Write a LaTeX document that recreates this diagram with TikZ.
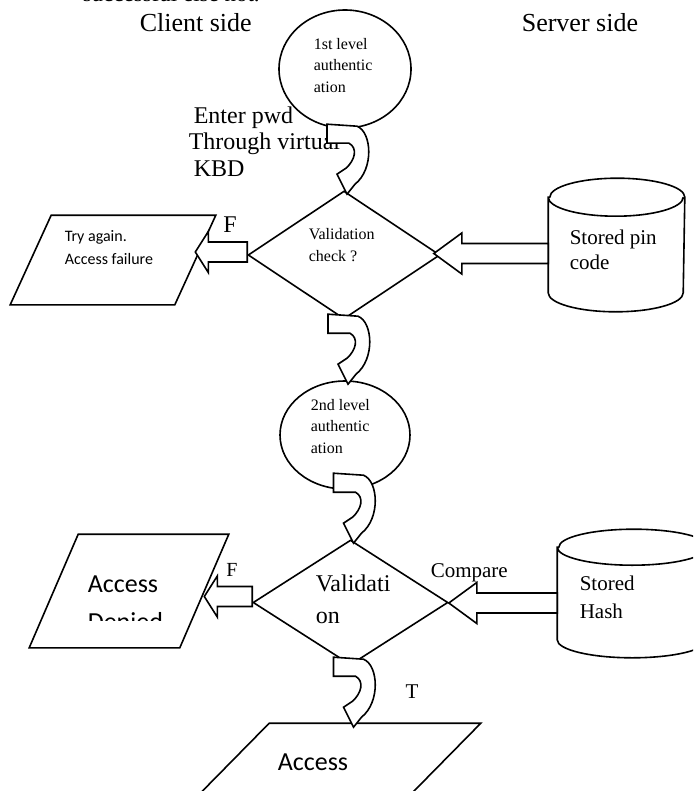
\documentclass[tikz,border=0pt]{standalone}
\usepackage{fontspec}
\setmainfont{Liberation Serif}
\newfontfamily\calib{Carlito}
\usepackage{tikz}
\usetikzlibrary{calc, shapes.geometric}

% horizontal block arrow: tail, tip, head length
\newcommand\hblock[3]{%
  \draw[blockarr] let \p1=#1, \p2=#2 in
    (\x1,\y1+5pt) -- (\x2+#3,\y1+5pt) -- (\x2+#3,\y1+10.25pt) -- (\x2,\y1)
    -- (\x2+#3,\y1-10.25pt) -- (\x2+#3,\y1-5pt) -- (\x1,\y1-5pt) -- cycle;}
% curved block arrow, tip at the given point
\newcommand\bendarrow[1]{%
  \draw[blockarr, shift={#1}, xshift=1.5pt, yshift=-2pt]
    (-20,-70) -- (10,-68) .. controls (25,-62) and (27,-25) .. (8,-10) -- (0,0) -- (-10,-20) -- (-1,-26)
    .. controls (8,-34) and (11,-46) .. (2,-51) -- (-20,-51) -- cycle;}
% slanted box round a node: node, slant
\newcommand\slab[2]{%
  \draw (#1.south west) -- ([xshift=#2]#1.north west) -- (#1.north east) -- ([xshift=-#2]#1.south east) -- cycle;}
% upright drum round a node: node, x radius, y radius
\newcommand\drum[3]{%
  \draw ([yshift=-#3]#1.north west) -- ([yshift=#3]#1.south west)
    arc[start angle=180, end angle=360, x radius=#2, y radius=#3]
    -- ([yshift=-#3]#1.north east)
    arc[start angle=0, end angle=180, x radius=#2, y radius=#3] -- cycle
    ([yshift=-#3]#1.north west) arc[start angle=180, end angle=360, x radius=#2, y radius=#3];}

\begin{document}
\begin{tikzpicture}[x=.5pt, y=-.5pt, line width=.8pt,
    blockarr/.style={draw, fill=white, line join=miter},
    bubble/.style={ellipse, draw, inner sep=0},
    decide/.style={diamond, draw, inner sep=0},
    box/.style={inner sep=0},
    txt/.style={inner sep=0, anchor=west, align=left}]
  \useasboundingbox (0,0) rectangle (693,791);
  \clip (0,0) rectangle (693,791);
  % headings
  \node[txt, anchor=base west, font=\fontsize{11.5}{13}\selectfont] (note) at (82,2) {successful else not.};
  \node[txt, font=\fontsize{13}{15}\selectfont] (client) at (139,23) {Client side};
  \node[txt, font=\fontsize{13}{15}\selectfont] (server) at (521,23) {Server side};
  % first level
  \node[bubble, minimum width=66pt, minimum height=59pt] (auth1) at (345,69) {};
  \node[txt, font=\fontsize{8}{10.75}\selectfont] (auth1txt) at (313,65.5) {1st level\\authentic\\ation};
  \node[txt, font=\fontsize{12}{13.25}\selectfont] (kbd) at (188,141.5) {\hspace{2.5pt}Enter pwd\\Through virtual\\\hspace{2.5pt}KBD};
  \node[decide, minimum width=96pt, minimum height=64pt] (val1) at (344,255) {};
  \node[txt, font=\fontsize{8}{11}\selectfont] (val1txt) at (308,245) {Validation\\check ?};
  \node[box, minimum width=102pt, minimum height=44pt] (retry) at (113,260) {};
  \slab{retry}{20.5pt}
  \node[txt, font=\calib\fontsize{8}{11.5}\selectfont] (retrytxt) at (64,248) {Try again.\\Access failure};
  \node[font=\fontsize{12}{14}\selectfont, inner sep=0] (f1) at (230,225) {F};
  \node[box, minimum width=67.5pt, minimum height=66pt] (pin) at (616.5,245) {};
  \drum{pin}{33.75pt}{9.5pt}
  \node[txt, font=\fontsize{10.5}{12.5}\selectfont] (pintxt) at (569,249.5) {Stored pin\\code};
  % second level
  \node[bubble, minimum width=65pt, minimum height=54pt] (auth2) at (345,435) {};
  \node[txt, font=\fontsize{8}{10.75}\selectfont] (auth2txt) at (310,426.5) {2nd level\\authentic\\ation};
  \node[decide, minimum width=97.5pt, minimum height=62.5pt] (val2) at (350.5,602.5) {};
  \node[txt, font=\fontsize{12}{16}\selectfont] (val2txt) at (315,599) {Validati\\on};
  \node[box, minimum width=99pt, minimum height=56pt] (deny) at (129,591) {};
  \slab{deny}{24.5pt}
  \begin{scope}
    \clip (20,560) rectangle (240,620);
    \node[txt, anchor=base west, font=\calib\fontsize{13}{19}\selectfont] (denytxt) at (87,592) {Access};
    \node[txt, anchor=base west, font=\calib\fontsize{13}{19}\selectfont] (denytxt2) at (87,630) {Denied};
  \end{scope}
  \node[font=\fontsize{10}{12}\selectfont, inner sep=0] (f2) at (232,570) {F};
  \node[box, minimum width=75pt, minimum height=63.5pt] (hash) at (633,593.5) {};
  \drum{hash}{37.5pt}{9pt}
  \node[txt, font=\fontsize{10.5}{14}\selectfont] (hashtxt) at (579,597) {Stored\\Hash};
  \node[txt, font=\fontsize{10.5}{12.5}\selectfont] (cmp) at (430,573) {Compare};
  \node[font=\fontsize{10.5}{12.5}\selectfont, inner sep=0] (t) at (412,692) {T};
  \node[box, minimum width=155pt, minimum height=50pt] (grant) at (325,774) {};
  \slab{grant}{50pt}
  \node[txt, anchor=base west, font=\calib\fontsize{13}{15}\selectfont] (granttxt) at (277,770) {Access};
  % arrows
  \bendarrow{(val1.north)}
  \bendarrow{(auth2.north)}
  \bendarrow{(val2.north)}
  \bendarrow{(val2.south |- grant.north)}
  \hblock{([yshift=1.5pt]val1.west)}{([xshift=-10.25pt]retry.east)}{6.5pt}
  \hblock{([yshift=-4.25pt]pin.west)}{([xshift=-3.5pt]val1.east)}{14pt}
  \hblock{([yshift=3pt]val2.west)}{([xshift=-12.25pt]deny.east)}{6.5pt}
  \hblock{([yshift=-4.75pt]hash.west)}{(val2.east)}{14pt}
\end{tikzpicture}
\end{document}
